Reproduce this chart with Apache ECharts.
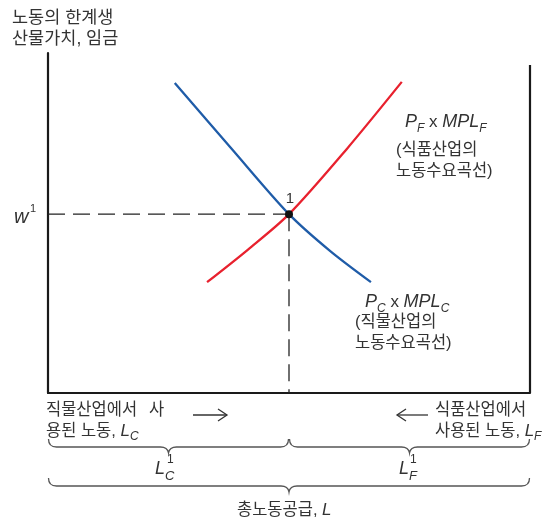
<!DOCTYPE html>
<html><head><meta charset="utf-8">
<script src="https://cdn.jsdelivr.net/npm/echarts@6/dist/echarts.min.js"></script>
<style>html,body{margin:0;padding:0;background:#fff}#c{width:557px;height:527px}</style>
</head><body><div id="c"></div>
<script>
// ---- data ----
const totalLabor = 100;          // L (total labour supply)
const LC1 = 50;                  // L_C^1 (clothing labour at equilibrium)
const w1 = 52.6;                 // equilibrium wage w^1
const yMax = 100;
const frameRightTop = 96.5;      // height of the right (food) axis
const clothX = [26.3, 38, 50, 58.5, 67];      // P_C x MPL_C (blue)
const clothY = [91.2, 72.0, 52.6, 41.8, 32.6];
const foodX = [33, 41.5, 50, 62, 73.4];       // P_F x MPL_F (red)
const foodY = [32.6, 42.2, 52.6, 71.8, 91.5];
const braces = [[0, LC1, 1], [LC1, totalLabor, 1], [0, totalLabor, 2]];

// ---- styling ----
const FF = "'Liberation Sans', 'Noto Sans CJK KR', sans-serif";
const TC = '#333';
const KS = 16.5;   // Korean text size
const zip = (a, b) => a.map((v, i) => [v, b[i]]);

function txt(x, y, text, size, extra) {
  return {type: 'text', x: x, y: y, silent: true,
    style: Object.assign({text: text, fontSize: size, fontFamily: FF, fill: TC,
      align: 'left', verticalAlign: 'middle'}, extra || {})};
}
const it = (s) => ({fontSize: s, fontStyle: 'italic', fontFamily: FF, fill: TC});
const nm = (s) => ({fontSize: s, fontFamily: FF, fill: TC});
const sub = (s, p) => ({fontSize: s, fontStyle: 'italic', fontFamily: FF, fill: TC, padding: [p, 0, 0, 0]});

function bracePath(x0, x1, y) {
  const xm = (x0 + x1) / 2, r = 8, t = 6;
  return 'M' + x0 + ',' + (y - r) + ' Q' + x0 + ',' + y + ' ' + (x0 + r) + ',' + y +
    ' L' + (xm - r) + ',' + y + ' Q' + (xm - 1) + ',' + y + ' ' + xm + ',' + (y + t) +
    ' Q' + (xm + 1) + ',' + y + ' ' + (xm + r) + ',' + y +
    ' L' + (x1 - r) + ',' + y + ' Q' + x1 + ',' + y + ' ' + x1 + ',' + (y - r);
}

const chart = echarts.init(document.getElementById('c'), null, {renderer: 'canvas'});
const axisCommon = {
  axisLine: {show: true, lineStyle: {color: '#1a1a1a', width: 2.2}},
  axisTick: {show: false}, axisLabel: {show: false}, splitLine: {show: false}
};
chart.setOption({
  animation: false,
  backgroundColor: '#fff',
  grid: {left: 48, right: 27, top: 53, bottom: 134},
  xAxis: Object.assign({type: 'value', min: 0, max: totalLabor}, axisCommon),
  yAxis: Object.assign({type: 'value', min: 0, max: yMax}, axisCommon),
  series: [
    {type: 'line', silent: true, symbol: 'none', data: [[totalLabor, 0], [totalLabor, frameRightTop]],
      lineStyle: {color: '#1a1a1a', width: 2.2}},
    {type: 'line', silent: true, symbol: 'none', data: [[0, w1], [LC1, w1]],
      lineStyle: {color: '#222', width: 1.3, type: [17, 8]}},
    {type: 'line', silent: true, symbol: 'none', data: [[LC1, w1], [LC1, 0]],
      lineStyle: {color: '#222', width: 1.3, type: [17, 8]}},
    {type: 'line', silent: true, symbol: 'none', smooth: 0.3, data: zip(clothX, clothY),
      lineStyle: {color: '#1f5ca8', width: 2.3}},
    {type: 'line', silent: true, symbol: 'none', smooth: 0.3, data: zip(foodX, foodY),
      lineStyle: {color: '#e8212e', width: 2.3}},
    {type: 'scatter', silent: true, z: 20, symbol: 'circle', symbolSize: 8, data: [[LC1, w1]],
      itemStyle: {color: '#111', opacity: 1},
      label: {show: true, formatter: '1', position: 'top', distance: 4, offset: [1, 0],
        fontSize: 15, fontFamily: FF, color: TC}},
    {type: 'custom', silent: true, data: braces, encode: {x: [0, 1], y: 2},
      renderItem: function (params, api) {
        const a = api.coord([api.value(0), 0]);
        const b = api.coord([api.value(1), 0]);
        const y = a[1] + (api.value(2) === 1 ? 54 : 93);
        return {type: 'path', shape: {pathData: bracePath(a[0] + 0.5, b[0] - 0.5, y)},
          style: {fill: 'none', stroke: '#555', lineWidth: 1.3}};
      }}
  ],
  graphic: [
    txt(12, 18, '노동의 한계생', 17.5),
    txt(12, 39, '산물가치, 임금', 17.5),
    txt(14, 217, 'w', 20, {fontStyle: 'italic'}),
    txt(30, 209, '1', 11),
    txt(405, 122, '{i|P}{s|F}{n| x }{i|MPL}{s|F}', 18, {rich: {i: it(18), s: sub(12, 14), n: nm(17)}}),
    txt(396, 150, '(식품산업의', KS),
    txt(396, 171, '노동수요곡선)', KS),
    txt(365, 302, '{i|P}{s|C}{n| x }{i|MPL}{s|C}', 18, {rich: {i: it(18), s: sub(12, 14), n: nm(17)}}),
    txt(355, 322, '(직물산업의', KS),
    txt(355, 343, '노동수요곡선)', KS),
    txt(46, 410, '직물산업에서', KS),
    txt(149, 410, '사', KS),
    txt(46, 431, '{k|용된 노동, }{i|L}{s|C}', KS, {rich: {k: nm(KS), i: it(17), s: sub(12, 12)}}),
    txt(435, 410, '식품산업에서', KS),
    txt(435, 431, '{k|사용된 노동, }{i|L}{s|F}', KS, {rich: {k: nm(KS), i: it(17), s: sub(12, 12)}}),
    txt(155, 469, 'L', 18, {fontStyle: 'italic'}),
    txt(165, 476, 'C', 13, {fontStyle: 'italic'}),
    txt(167, 460, '1', 12),
    txt(399, 469, 'L', 18, {fontStyle: 'italic'}),
    txt(409, 476, 'F', 13, {fontStyle: 'italic'}),
    txt(410, 460, '1', 12),
    txt(237, 510, '{k|총노동공급, }{i|L}', KS, {rich: {k: nm(KS), i: it(17)}}),
    {type: 'polyline', silent: true, shape: {points: [[193, 415], [227, 415]]}, style: {stroke: '#333', lineWidth: 1.3, fill: 'none'}},
    {type: 'polyline', silent: true, shape: {points: [[218, 409], [227, 415], [218, 421]]}, style: {stroke: '#333', lineWidth: 1.3, fill: 'none'}},
    {type: 'polyline', silent: true, shape: {points: [[397, 415], [428, 415]]}, style: {stroke: '#333', lineWidth: 1.3, fill: 'none'}},
    {type: 'polyline', silent: true, shape: {points: [[406, 409], [397, 415], [406, 421]]}, style: {stroke: '#333', lineWidth: 1.3, fill: 'none'}}
  ]
});
</script></body></html>
